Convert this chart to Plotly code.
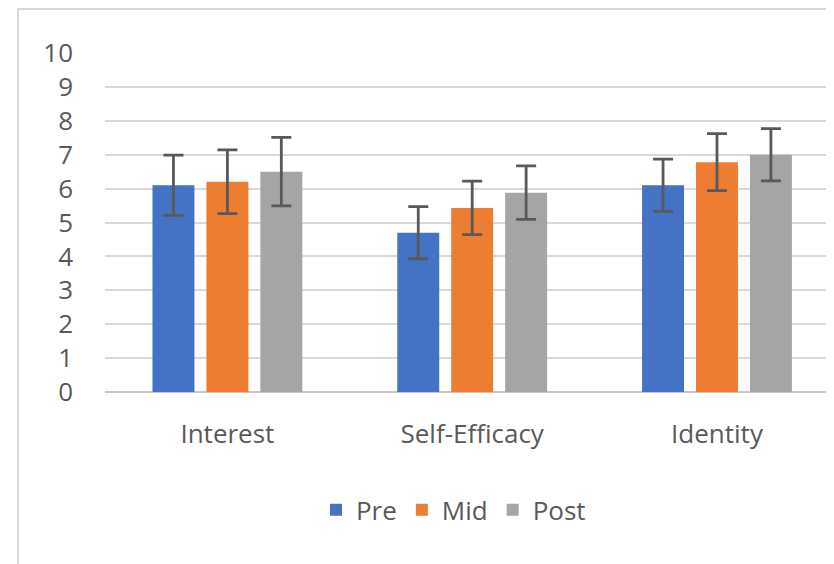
import plotly.graph_objects as go

categories = ["Interest", "Self-Efficacy", "Identity"]
series_names = ["Pre", "Mid", "Post"]
pre_values = [6.1, 4.7, 6.1]
mid_values = [6.2, 5.43, 6.78]
post_values = [6.5, 5.88, 7.0]
pre_err = [0.89, 0.77, 0.77]
mid_err = [0.94, 0.79, 0.84]
post_err = [1.01, 0.79, 0.77]
y_ticks = list(range(0, 11))

colors = ["#4472C4", "#ED7D31", "#A5A5A5"]
text_color = "#595959"
font_family = "Open Sans, Liberation Sans, sans-serif"

fig = go.Figure()
for name, vals, errs, col in zip(series_names, [pre_values, mid_values, post_values],
                                 [pre_err, mid_err, post_err], colors):
    fig.add_trace(go.Bar(
        x=categories, y=vals, name=name, marker=dict(color=col, line=dict(width=0)),
        error_y=dict(type="data", array=errs, visible=True, color="#595959",
                     thickness=2.8, width=10),
    ))

# page has an 8px body margin; figure is offset accordingly
W, H = 826, 556
L, R, T, B = 97, 0, 45, 172
PW, PH = W - L - R, H - T - B

fig.update_layout(
    width=W, height=H,
    margin=dict(l=L, r=R, t=T, b=B, pad=0),
    paper_bgcolor="white", plot_bgcolor="white",
    barmode="group", bargap=0.339, bargroupgap=0.222,
    font=dict(family=font_family, size=26, color=text_color),
    showlegend=True,
    legend=dict(orientation="h", x=0.478, xanchor="center", y=-0.348, yanchor="middle",
                font=dict(size=26, color=text_color),
                traceorder="normal", itemwidth=30),
    xaxis=dict(range=[-0.5, 2.478], showgrid=False, showline=False, ticks="",
               zeroline=False, ticklabelstandoff=24, fixedrange=True),
    yaxis=dict(range=[0, 10], tickvals=y_ticks, showgrid=True, gridcolor="#d9d9d9",
               gridwidth=2, zeroline=True, zerolinecolor="#c8c8c8", zerolinewidth=2,
               showline=False, ticks="", ticklabelstandoff=31, fixedrange=True),
    shapes=[
        dict(type="line", xref="paper", yref="paper",
             x0=-(L - 10) / PW, x1=1.0,
             y0=1 + (T - 1) / PH, y1=1 + (T - 1) / PH,
             line=dict(color="#d9d9d9", width=2)),
        dict(type="line", xref="paper", yref="paper",
             x0=-(L - 10) / PW, x1=-(L - 10) / PW,
             y0=1 + (T - 1) / PH, y1=-B / PH,
             line=dict(color="#d9d9d9", width=2)),
    ],
)

fig.write_html("out.html")
